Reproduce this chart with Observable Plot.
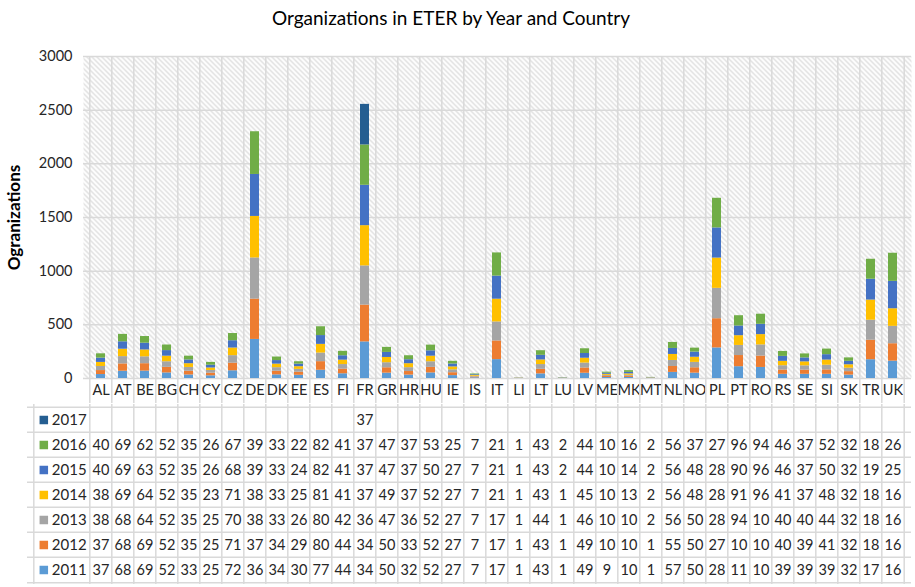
<!DOCTYPE html>
<html><head><meta charset="utf-8">
<script src="https://cdn.jsdelivr.net/npm/d3@7"></script>
<script src="https://cdn.jsdelivr.net/npm/@observablehq/plot@0.6"></script>
<style>
body{margin:0;background:#fff;font-family:Lato,sans-serif;}
#wrap{position:relative;width:915px;height:587px;overflow:hidden;background:#fff}
#title{position:absolute;left:0;top:0;width:902px;height:35px;line-height:35px;text-align:center;font-size:19px;color:#000;font-family:Lato,sans-serif}
#chart{position:absolute;left:0;top:40px}
#table{position:absolute;left:0;top:403px}
</style></head><body>
<div id="wrap"><div id="title"></div><div id="chart"></div><div id="table"></div></div>
<script>
const titleText = "Organizations in ETER by Year and Country";
const yLabel = "Ogranizations";
const countries = ["AL","AT","BE","BG","CH","CY","CZ","DE","DK","EE","ES","FI","FR","GR","HR","HU","IE","IS","IT","LI","LT","LU","LV","ME","MK","MT","NL","NO","PL","PT","RO","RS","SE","SI","SK","TR","UK"];
const years = ["2011","2012","2013","2014","2015","2016","2017"];
const colors = ["#5B9BD5","#ED7D31","#A5A5A5","#FFC000","#4472C4","#70AD47","#255E91"];
const yTicks = [0,500,1000,1500,2000,2500,3000];
const v2011 = [37,68,69,52,33,25,72,364,34,30,77,44,341,50,32,52,27,7,176,1,43,1,49,9,10,1,57,50,285,110,103,39,39,39,32,175,162];
const v2012 = [37,68,69,52,35,25,71,376,34,29,80,44,343,50,33,52,27,7,174,1,43,1,49,10,10,1,55,50,272,104,106,40,39,41,32,182,162];
const v2013 = [38,68,64,52,35,25,70,383,33,26,80,42,365,47,36,52,27,7,177,1,44,1,46,10,10,2,56,50,283,94,104,40,40,44,32,186,162];
const v2014 = [38,69,64,52,35,23,71,387,33,25,81,41,375,49,37,52,27,7,212,1,43,1,45,10,13,2,56,48,282,91,96,41,37,48,32,188,164];
const v2015 = [40,69,63,52,35,26,68,391,33,24,82,41,376,47,37,50,27,7,215,1,43,2,44,10,14,2,56,48,281,90,96,46,37,50,32,194,255];
const v2016 = [40,69,62,52,35,26,67,398,33,22,82,41,376,47,37,53,25,7,216,1,43,2,44,10,16,2,56,37,276,96,94,46,37,52,32,186,262];
const v2017 = [null,null,null,null,null,null,null,null,null,null,null,null,378,null,null,null,null,null,null,null,null,null,null,null,null,null,null,null,null,null,null,null,null,null,null,null,null];

const series = {"2011":v2011,"2012":v2012,"2013":v2013,"2014":v2014,"2015":v2015,"2016":v2016,"2017":v2017};
const data = years.flatMap(y => countries.map((c,i) => ({country:c, year:y, value:series[y][i]}))).filter(d => d.value != null);

document.getElementById("title").textContent = titleText;

const W = 915, ML = 83, MR = 4;
const step = (W - ML - MR) / countries.length;
const grid = "#d9d9d9";
const ink = "#262626";
const font = "Lato, sans-serif";

const chart = Plot.plot({
  width: W, height: 363, marginTop: 16, marginBottom: 25, marginLeft: ML, marginRight: MR,
  style: {fontFamily: font, fontSize: "14.5px", color: ink, background: "transparent"},
  x: {type: "band", domain: countries, paddingInner: 0.58, paddingOuter: 0.29, tickSize: 0, tickPadding: 6, label: null},
  y: {domain: [0, 3000], ticks: yTicks, tickFormat: d => String(d), tickSize: 0, tickPadding: 11, label: null},
  color: {domain: years, range: colors},
  marks: [
    Plot.frame({fill: "url(#hatch)", stroke: null}),
    Plot.ruleY(yTicks, {stroke: grid, strokeWidth: 1.5}),
    Plot.ruleX(countries, {x: d => d, dx: -step/2, stroke: grid, strokeWidth: 1.5, insetBottom: -25}),
    Plot.ruleX([countries[countries.length-1]], {x: d => d, dx: step/2, stroke: grid, strokeWidth: 1.5, insetBottom: -25}),
    Plot.barY(data, {x: "country", y: "value", fill: "year"}),
    Plot.text([yLabel], {frameAnchor: "left", dx: -69, rotate: -90, textAnchor: "middle", fontWeight: "bold", fontSize: 17, fill: "#000"})
  ]
});
const ns = "http://www.w3.org/2000/svg";
const defs = document.createElementNS(ns, "defs");
defs.innerHTML = '<pattern id="hatch" patternUnits="userSpaceOnUse" width="5" height="5"><rect width="5" height="5" fill="#fff"/><path d="M-1,-1 L6,6 M-1,4 L1,6 M4,-1 L6,1" stroke="#d4d4d4" stroke-width="1.1"/></pattern>';
chart.prepend(defs);
document.getElementById("chart").appendChild(chart);

const rowYears = years.slice().reverse();
const TH = 184, TMT = 1, TMB = 3;
const rowH = (TH - TMT - TMB) / rowYears.length;
const table = Plot.plot({
  width: W, height: TH, marginTop: TMT, marginBottom: TMB, marginLeft: ML, marginRight: MR,
  style: {fontFamily: font, fontSize: "14.5px", color: ink, background: "transparent", overflow: "visible"},
  x: {type: "band", domain: countries, paddingInner: 0.58, paddingOuter: 0.29, axis: null},
  y: {type: "band", domain: rowYears, padding: 0, axis: null},
  color: {domain: years, range: colors},
  marks: [
    Plot.ruleY(rowYears, {y: d => d, dy: -rowH/2, insetLeft: -56, stroke: grid, strokeWidth: 1.5}),
    Plot.ruleY([rowYears[rowYears.length-1]], {y: d => d, dy: rowH/2, insetLeft: -56, stroke: grid, strokeWidth: 1.5}),
    Plot.ruleX(countries, {x: d => d, dx: -step/2, stroke: grid, strokeWidth: 1.5}),
    Plot.ruleX([countries[countries.length-1]], {x: d => d, dx: step/2, stroke: grid, strokeWidth: 1.5}),
    Plot.ruleX([countries[0]], {x: d => d, dx: -step/2 - 56, stroke: grid, strokeWidth: 1.5}),
    Plot.text(data, {x: "country", y: "year", text: d => String(d.value).slice(0, 2), fontSize: 14.5, fill: ink}),
    Plot.dot(rowYears, {x: () => countries[0], y: d => d, dx: -step/2 - 46, symbol: "square", r: 4.8, fill: d => d}),
    Plot.text(rowYears, {x: () => countries[0], y: d => d, dx: -step/2 - 38, text: d => d, textAnchor: "start", fontSize: 15, fill: ink})
  ]
});
document.getElementById("table").appendChild(table);
</script>
</body></html>
